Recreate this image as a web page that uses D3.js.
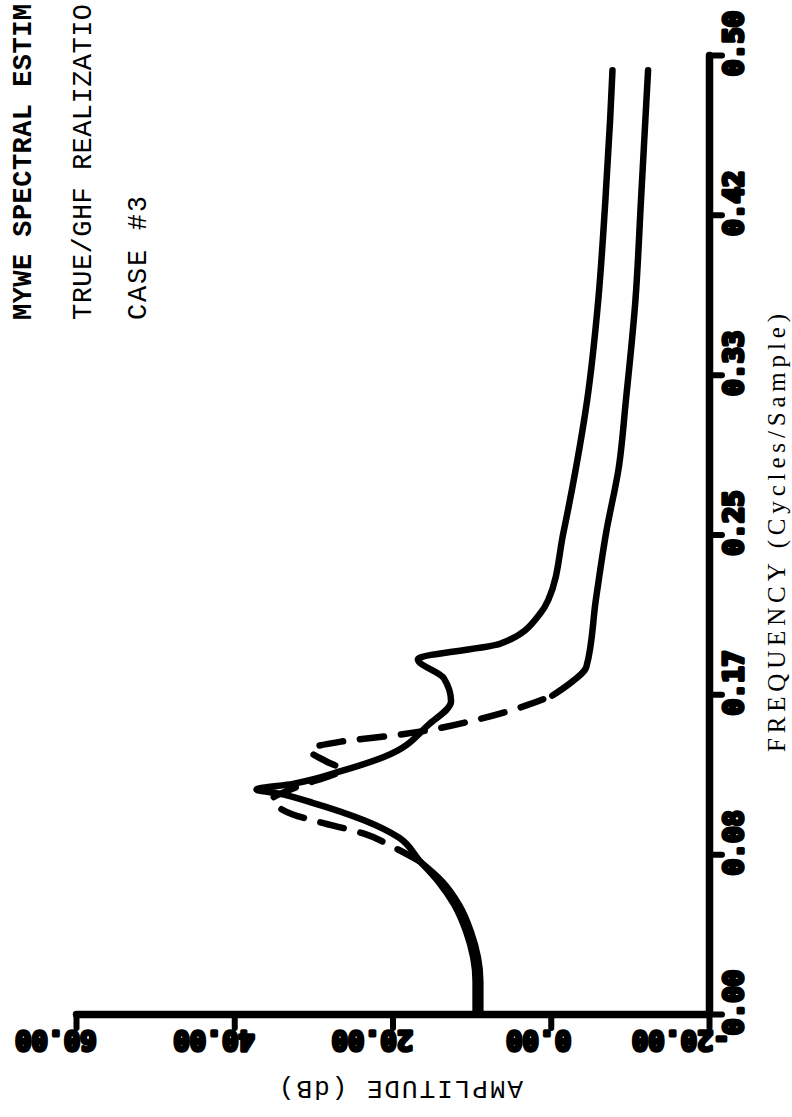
<!DOCTYPE html>
<html>
<head>
<meta charset="utf-8">
<script src="https://cdn.jsdelivr.net/npm/d3@7/dist/d3.min.js"></script>
<style>
  html, body { margin: 0; padding: 0; background: #fff; }
  svg { display: block; }
</style>
</head>
<body>
<script>
// ---------- DATA ----------
const titleLines = ["MYWE SPECTRAL ESTIM", "TRUE/GHF REALIZATIO", "CASE #3"];
const xAxisTitle = "FREQUENCY (Cycles/Sample)";
const yAxisTitle = "AMPLITUDE (dB)";

const freqTicks  = [0, 0.0833, 0.1667, 0.25, 0.3333, 0.4167, 0.5];
const freqLabels = ["0.00", "0.08", "0.17", "0.25", "0.33", "0.42", "0.50"];
const ampTicks   = [60, 40, 20, 0, -20];
const ampLabels  = ["60.00", "40.00", "20.00", "0.00", "-20.00"];

// MYWE estimate (solid)
const estFreq = [0.000, 0.017, 0.043, 0.057, 0.069, 0.080, 0.092, 0.101, 0.110, 0.115, 0.117, 0.120, 0.127, 0.134, 0.151, 0.163, 0.175, 0.185, 0.193, 0.209, 0.216, 0.251, 0.285, 0.320, 0.372, 0.424, 0.466, 0.492];
const estAmp  = [9.5, 9.5, 10.7, 12.2, 14.2, 16.6, 19.2, 23.6, 30.0, 34.5, 37.2, 32.6, 26.2, 21.1, 15.4, 12.6, 13.5, 16.8, 6.4, 1.3, 0.3, -1.6, -3.2, -4.6, -6.0, -6.9, -7.5, -7.8];

// True spectrum (solid / dashed)
const trueFreq = [0.000, 0.017, 0.043, 0.057, 0.069, 0.080, 0.087, 0.094, 0.100, 0.104, 0.108, 0.112, 0.116, 0.120, 0.124, 0.127, 0.132, 0.136, 0.138, 0.142, 0.146, 0.154, 0.161, 0.166, 0.172, 0.181, 0.216, 0.251, 0.285, 0.320, 0.372, 0.424, 0.477, 0.492];
const trueAmp  = [8.9, 8.9, 10.1, 11.6, 13.7, 16.7, 19.9, 23.6, 29.2, 32.6, 34.5, 35.2, 33.5, 31.0, 28.0, 26.4, 28.5, 30.2, 30.4, 26.5, 18.5, 8.8, 3.0, -0.2, -2.3, -4.5, -5.7, -7.0, -8.6, -9.5, -10.7, -11.4, -12.1, -12.3];

// ---------- DRAW ----------
const W = 792, H = 1117;
const svg = d3.select("body").append("svg").attr("width", W).attr("height", H);

// rotated chart: frequency runs bottom->top, amplitude runs right->left
const fy = d3.scaleLinear().domain([0, 0.5]).range([1014, 55]);
const ax = d3.scaleLinear().domain([60, -20]).range([76, 709]);

const line = d3.line().x(d => ax(d.a)).y(d => fy(d.f)).curve(d3.curveMonotoneY);

const est = estFreq.map((f, i) => ({ f, a: estAmp[i] }));
const tru = trueFreq.map((f, i) => ({ f, a: trueAmp[i] }));

const dashLo = 0.080, dashHi = 0.166;
const truA = tru.filter(d => d.f <= dashLo);
const truB = tru.filter(d => d.f >= dashLo && d.f <= dashHi);
const truC = tru.filter(d => d.f >= dashHi);

const curves = svg.append("g").attr("fill", "none").attr("stroke", "#000")
  .attr("stroke-width", 6.5).attr("stroke-linecap", "round").attr("stroke-linejoin", "round");
curves.append("path").attr("d", line(est));
curves.append("path").attr("d", line(truA));
curves.append("path").attr("d", line(truB)).attr("stroke-dasharray", "24,17");
curves.append("path").attr("d", line(truC));

// frequency axis (right side)
const gF = svg.append("g").attr("transform", "translate(709,0)")
  .call(d3.axisRight(fy).tickValues(freqTicks).tickFormat((d, i) => freqLabels[i]).tickSize(13).tickSizeOuter(0));
// amplitude axis (bottom)
const gA = svg.append("g").attr("transform", "translate(0,1014)")
  .call(d3.axisBottom(ax).tickValues(ampTicks).tickFormat((d, i) => ampLabels[i]).tickSize(14).tickSizeOuter(0));

[gF, gA].forEach(g => {
  g.select(".domain").attr("stroke", "#000").attr("stroke-width", 7.5).attr("stroke-linecap", "round");
  g.selectAll(".tick line").attr("stroke", "#000").attr("stroke-width", 6).attr("stroke-linecap", "round");
  g.selectAll(".tick text")
    .attr("fill", "#000").attr("stroke", "#000").attr("stroke-width", 3.5).attr("stroke-linejoin", "round")
    .attr("font-family", "DejaVu Sans Mono").attr("font-weight", "bold").attr("font-size", 27)
    .attr("x", null).attr("y", null).attr("dy", "0.36em");
});
gF.selectAll(".tick text").attr("text-anchor", "middle").attr("transform", "translate(24,-12) rotate(-90)");
gA.selectAll(".tick text").attr("text-anchor", "start").attr("transform", "translate(20,27) rotate(180)");

// titles (rotated, reading bottom to top)
const tX = [31, 91, 146];
const tW = ["bold", "normal", "normal"];
const tLen = [316, 316, 124];
titleLines.forEach((t, i) => {
  svg.append("text").text(t)
    .attr("transform", `translate(${tX[i]},320) rotate(-90)`)
    .attr("font-family", "Liberation Mono").attr("font-weight", tW[i]).attr("font-size", 27)
    .attr("textLength", tLen[i]).attr("lengthAdjust", "spacing")
    .attr("fill", "#000");
});

svg.append("text").text(xAxisTitle)
  .attr("transform", "translate(785,752) rotate(-90)")
  .attr("font-family", "Liberation Serif").attr("font-size", 25)
  .attr("textLength", 438).attr("lengthAdjust", "spacing")
  .attr("fill", "#000");

svg.append("text").text(yAxisTitle)
  .attr("transform", "translate(401,1081) rotate(180)")
  .attr("text-anchor", "middle")
  .attr("font-family", "Liberation Mono").attr("font-size", 26)
  .attr("textLength", 244).attr("lengthAdjust", "spacing")
  .attr("fill", "#000");
</script>
</body>
</html>
